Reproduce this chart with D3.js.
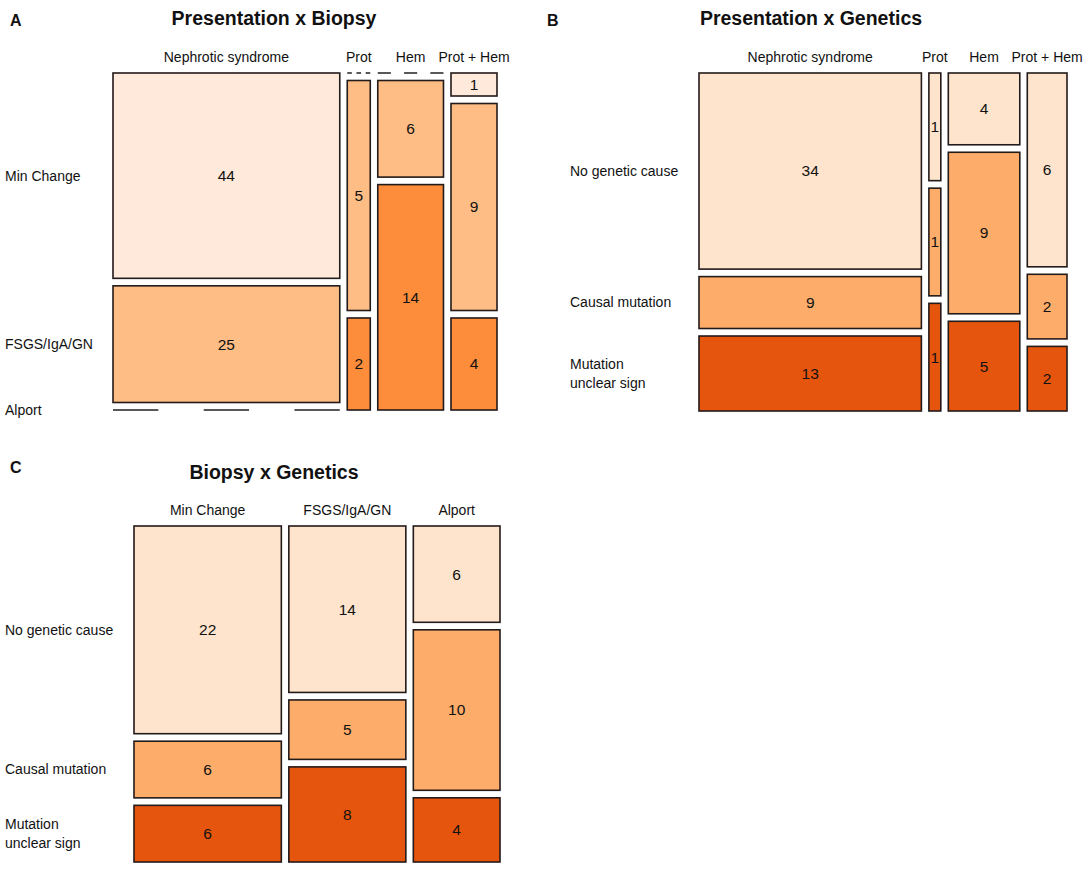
<!DOCTYPE html>
<meta charset="utf-8" />
<title>Mosaic plots: Presentation, Biopsy, Genetics</title>
<script src="https://d3js.org/d3.v7.min.js"></script>
<style>
  body { margin: 0; background: #fff; }
  text { font-family: "Liberation Sans", Arial, sans-serif; fill: #111; }
</style>
<svg id="chart" width="1084" height="870"></svg>
<script>
  // Categories
  var presentation = ["Nephrotic syndrome", "Prot", "Hem", "Prot + Hem"];
  var biopsy       = ["Min Change", "FSGS/IgA/GN", "Alport"];
  var genetics     = ["No genetic cause", "Causal mutation", "Mutation\nunclear sign"];

  // Counts, one inner array per column (rows top to bottom)
  var presBiopsy  = [[44, 25, 0], [0, 5, 2], [0, 6, 14], [1, 9, 4]];
  var presGenetic = [[34, 9, 13], [1, 1, 1], [4, 9, 5], [6, 2, 2]];
  var biopGenetic = [[22, 6, 6], [14, 5, 8], [6, 10, 4]];

  // Fill colours per row
  var biopsyColors  = ["#fee9da", "#fdbd84", "#fd8c3b"];
  var geneticColors = ["#fee4cc", "#fdad69", "#e5550e"];

  var svg = d3.select("#chart");

  function mosaic(opt) {
    /* draws one mosaic panel: columns split by marginal totals,
       each column split by its own row counts */
    var g = svg.append("g");
    var gap = 7.5;
    var nCol = opt.counts.length;
    var colTot = opt.counts.map(d => d3.sum(d));
    var total = d3.sum(colTot);

    var x = d3.scaleLinear().domain([0, total])
      .range([opt.x0, opt.x1 - gap * (nCol - 1)]);

    // panel letter and title
    g.append("text").attr("x", opt.letterX).attr("y", opt.letterY)
      .style("font-weight", "bold").style("font-size", "16px").text(opt.letter);
    g.append("text").attr("x", opt.titleX).attr("y", opt.titleY)
      .attr("text-anchor", "middle").style("font-weight", "bold")
      .style("font-size", "19.5px").text(opt.title);

    var cum = 0;
    opt.counts.forEach(function (col, i) {
      var cx0 = x(cum) + i * gap;
      var cx1 = x(cum + colTot[i]) + i * gap;
      cum += colTot[i];
      var w = cx1 - cx0;

      g.append("text").attr("x", (cx0 + cx1) / 2).attr("y", opt.y0 - 11)
        .attr("text-anchor", "middle").style("font-size", "14px")
        .text(opt.cols[i]);

      var nRow = col.length;
      var y = d3.scaleLinear().domain([0, colTot[i]])
        .range([opt.y0, opt.y1 - gap * (nRow - 1)]);
      var rc = 0;
      col.forEach(function (v, j) {
        var ry0 = y(rc) + j * gap;
        var ry1 = y(rc + v) + j * gap;
        rc += v;
        if (v === 0) {
          g.append("line").attr("x1", cx0).attr("x2", cx1)
            .attr("y1", ry0).attr("y2", ry0)
            .attr("stroke", "#222").attr("stroke-width", 1.5)
            .attr("stroke-dasharray", (w / 5) + "," + (w / 5));
          return;
        }
        g.append("rect").attr("x", cx0).attr("y", ry0)
          .attr("width", w).attr("height", ry1 - ry0)
          .attr("fill", opt.colors[j]).attr("stroke", "#231a1a")
          .attr("stroke-width", 1.6);
        g.append("text").attr("x", (cx0 + cx1) / 2).attr("y", (ry0 + ry1) / 2)
          .attr("dy", "0.35em").attr("text-anchor", "middle")
          .style("font-size", "15.5px").text(v);

        // row labels follow the first column's cells
        if (i === 0) {
          var lines = opt.rows[j].split("\n");
          var t = g.append("text").attr("x", opt.labelX)
            .attr("y", (ry0 + ry1) / 2).style("font-size", "14px");
          lines.forEach(function (s, k) {
            t.append("tspan").attr("x", opt.labelX)
              .attr("dy", k === 0 ? (0.35 - (lines.length - 1) * 0.65) + "em" : "1.3em")
              .text(s);
          });
        }
      });
      // labels for zero cells in the first column
      if (i === 0) {
        col.forEach(function (v, j) {
          if (v !== 0) return;
          var before = d3.sum(col.slice(0, j));
          var yy = y(before) + j * gap;
          g.append("text").attr("x", opt.labelX).attr("y", yy)
            .attr("dy", "0.35em").style("font-size", "14px").text(opt.rows[j]);
        });
      }
    });
  }

  mosaic({
    counts: presBiopsy, cols: presentation, rows: biopsy, colors: biopsyColors,
    x0: 113, x1: 497, y0: 73, y1: 410, labelX: 5,
    letter: "A", letterX: 10, letterY: 26, title: "Presentation x Biopsy", titleX: 274, titleY: 25
  });

  mosaic({
    counts: presGenetic, cols: presentation, rows: genetics, colors: geneticColors,
    x0: 699, x1: 1067, y0: 73, y1: 411, labelX: 570,
    letter: "B", letterX: 547, letterY: 26, title: "Presentation x Genetics", titleX: 811, titleY: 25
  });

  mosaic({
    counts: biopGenetic, cols: biopsy, rows: genetics, colors: geneticColors,
    x0: 134, x1: 500, y0: 526, y1: 862, labelX: 5,
    letter: "C", letterX: 10, letterY: 473, title: "Biopsy x Genetics", titleX: 274, titleY: 479
  });
</script>
